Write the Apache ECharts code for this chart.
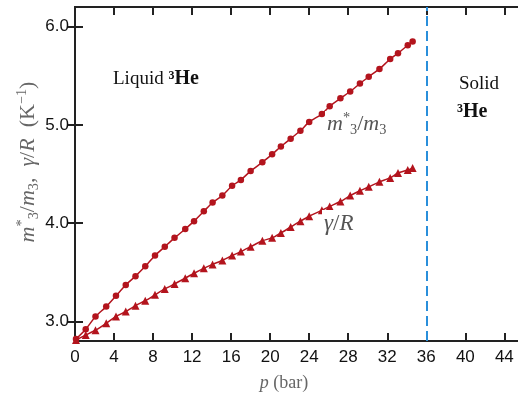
<!DOCTYPE html>
<html>
<head>
<meta charset="utf-8">
<script src="https://cdn.jsdelivr.net/npm/echarts@6/dist/echarts.min.js"></script>
<style>
    html, body { margin: 0; padding: 0; background: #fff; }
    #chart { width: 518px; height: 396px; }
</style>
</head>
<body>
<div id="chart"></div>
<script>
    // pressure (bar) of the measured points
    const pressure = [0.1, 1.1, 2.1, 3.2, 4.2, 5.2, 6.2, 7.2, 8.2, 9.2, 10.2, 11.3, 12.2, 13.2, 14.1, 15.1, 16.1, 17.0,
        18.0, 19.2, 20.2, 21.1, 22.1, 23.1, 24.0, 25.3, 26.1, 27.2, 28.2, 29.2, 30.1, 31.2, 32.3, 33.1, 34.1, 34.6];
    // effective mass ratio m3*/m3
    const massRatio = [2.82, 2.92, 3.05, 3.15, 3.26, 3.37, 3.46, 3.56, 3.67, 3.76, 3.85, 3.94, 4.02, 4.12, 4.21, 4.28, 4.38, 4.44,
        4.53, 4.62, 4.70, 4.78, 4.86, 4.94, 5.03, 5.11, 5.19, 5.27, 5.34, 5.42, 5.49, 5.57, 5.67, 5.73, 5.81, 5.85];
    // gamma / R  (K^-1)
    const gammaR = [2.81, 2.86, 2.91, 2.98, 3.05, 3.10, 3.16, 3.21, 3.27, 3.33, 3.38, 3.44, 3.49, 3.54, 3.58, 3.62, 3.67, 3.71,
        3.76, 3.82, 3.85, 3.90, 3.96, 4.02, 4.07, 4.13, 4.17, 4.22, 4.28, 4.33, 4.37, 4.42, 4.46, 4.51, 4.54, 4.56];
    const xTicks = [0, 4, 8, 12, 16, 20, 24, 28, 32, 36, 40, 44];
    const yTicks = [3, 4, 5, 6];
    const meltingPressure = 36; // liquid / solid boundary

    const red = '#b3141d';
    const axisColor = '#222';
    const nameGrey = '#666';
    const serif = '"Liberation Serif", "DejaVu Serif", serif';

    const chart = echarts.init(document.getElementById('chart'));

    const tickStyle = { inside: true, length: 8, lineStyle: { color: axisColor, width: 2 } };

    // rich-text pieces for the math-like labels
    function mathRich(color, size) {
        return {
            i: { fontStyle: 'italic', fontSize: size, fontFamily: serif, color: color, fill: color, lineHeight: size + 4, verticalAlign: 'middle' },
            n: { fontSize: size, fontFamily: serif, color: color, fill: color, lineHeight: size + 4, verticalAlign: 'middle' },
            sup: { fontSize: size * 0.65, fontFamily: serif, color: color, fill: color, verticalAlign: 'top' },
            sub: { fontSize: size * 0.65, fontFamily: serif, color: color, fill: color, verticalAlign: 'bottom' }
        };
    }

    const option = {
        animation: false,
        grid: { left: 75, right: -1, top: 7, bottom: 55, outerBoundsMode: 'none', containLabel: false },
        xAxis: [
            {
                type: 'value', min: 0, max: 45.5, position: 'bottom',
                splitLine: { show: false },
                axisLine: { lineStyle: { color: axisColor, width: 2 } },
                axisTick: Object.assign({ customValues: xTicks }, tickStyle),
                axisLabel: { customValues: xTicks, color: '#111', fontSize: 17, fontFamily: 'Liberation Sans, Arial', margin: 8 },
                name: '{i|p}{n| (bar)}',
                nameLocation: 'middle',
                nameGap: 31,
                nameTextStyle: {
                    color: nameGrey, fontSize: 18, fontFamily: serif, padding: [0, 26, 0, 0],
                    rich: mathRich(nameGrey, 18)
                }
            },
            {
                type: 'value', min: 0, max: 45.5, position: 'top',
                splitLine: { show: false },
                axisLine: { lineStyle: { color: axisColor, width: 2 } },
                axisTick: Object.assign({ customValues: xTicks }, tickStyle),
                axisLabel: { show: false }
            }
        ],
        yAxis: [
            {
                type: 'value', min: 2.8, max: 6.2, position: 'left',
                splitLine: { show: false },
                axisLine: { lineStyle: { color: axisColor, width: 2 } },
                axisTick: Object.assign({ customValues: yTicks }, tickStyle),
                axisLabel: {
                    customValues: yTicks, color: '#111', fontSize: 17, fontFamily: 'Liberation Sans, Arial', margin: 6,
                    formatter: v => v.toFixed(1)
                }
            },
            {
                type: 'value', min: 2.8, max: 6.2, position: 'right',
                splitLine: { show: false },
                axisLine: { show: true, lineStyle: { color: axisColor, width: 2 } },
                axisTick: Object.assign({ customValues: yTicks }, tickStyle),
                axisLabel: { show: false }
            }
        ],
        series: [
            {
                name: 'm3*/m3',
                type: 'line',
                data: pressure.map((p, i) => [p, massRatio[i]]),
                smooth: 0.2,
                symbol: 'circle',
                symbolSize: 6.5,
                itemStyle: { color: red },
                lineStyle: { color: red, width: 1.5 },
                markLine: {
                    silent: true,
                    symbol: 'none',
                    label: { show: false },
                    lineStyle: { color: '#2a8fdb', width: 2, type: [10, 5] },
                    data: [{ xAxis: meltingPressure }]
                }
            },
            {
                name: 'gamma/R',
                type: 'line',
                data: pressure.map((p, i) => [p, gammaR[i]]),
                smooth: 0.2,
                symbol: 'triangle',
                symbolSize: 8,
                itemStyle: { color: red },
                lineStyle: { color: red, width: 1.5 }
            }
        ],
        graphic: [
            {
                // y axis title, rotated
                type: 'text', x: 28, y: 162, rotation: Math.PI / 2,
                style: {
                    text: '{i|m}{sup|*}{sub|3}{n|/}{i|m}{sub|3}{n|,  }{i|γ}{n|/}{i|R}{n|  (K}{sup|−1}{n|)}',
                    align: 'center', verticalAlign: 'middle',
                    rich: mathRich(nameGrey, 22)
                }
            },
            {
                type: 'text', left: 113, top: 69,
                style: {
                    text: 'Liquid {b|³He}',
                    fill: '#111', font: '19px ' + serif,
                    rich: { b: { fontWeight: 'bold', fontSize: 20, fontFamily: serif, fill: '#111' } }
                }
            },
            {
                type: 'text', left: 459, top: 75,
                style: { text: 'Solid', fill: '#111', font: '19px ' + serif }
            },
            {
                type: 'text', left: 457, top: 102,
                style: { text: '³He', fill: '#111', font: 'bold 20px ' + serif }
            },
            {
                type: 'text', left: 325, top: 111, z: 10,
                style: {
                    text: '{i|m}{sup|*}{sub|3}{n|/}{i|m}{sub|3}',
                    backgroundColor: '#fff', padding: [0, 2],
                    rich: mathRich('#555', 22)
                }
            },
            {
                type: 'text', left: 322, top: 210, z: 10,
                style: {
                    text: '{i|γ}{n|/}{i|R}',
                    backgroundColor: '#fff', padding: [0, 2],
                    rich: mathRich('#555', 23)
                }
            }
        ]
    };

    chart.setOption(option);
</script>
</body>
</html>
